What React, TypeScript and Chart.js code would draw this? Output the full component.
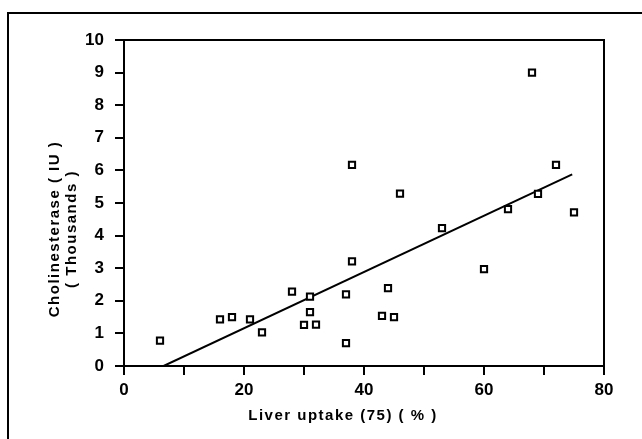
import React, { useEffect, useRef } from "react";
import { Chart, registerables } from "chart.js";

Chart.register(...registerables);

// Scatter data: liver uptake (%) vs cholinesterase (thousands IU)
const uptakeX = [6, 16, 18, 21, 23, 28, 30, 31, 31, 32, 37, 37, 38, 38, 43, 44, 45, 46, 53, 60, 64, 68, 69, 72, 75];
const cholinY = [0.78, 1.43, 1.5, 1.43, 1.03, 2.28, 1.26, 2.13, 1.65, 1.27, 2.2, 0.7, 3.21, 6.17, 1.54, 2.39, 1.5, 5.29, 4.23, 2.97, 4.81, 9.0, 5.28, 6.17, 4.71];

// Regression line end points
const fitX = [6.6, 74.7];
const fitY = [0, 5.88];

const xTickLabels = ["0", "20", "40", "60", "80"];
const xTitle = "Liver uptake (75) ( % )";
const yTitle1 = "Cholinesterase ( IU )";
const yTitle2 = "( Thousands )";

const FONT = "'Liberation Sans', Arial, sans-serif";

const decorPlugin = {
  id: "decor",
  afterDraw(chart: any) {
    const { ctx, chartArea } = chart;
    ctx.save();
    ctx.strokeStyle = "#000";
    ctx.lineWidth = 2;
    // outer border (top and left)
    ctx.beginPath();
    ctx.moveTo(8, 439);
    ctx.lineTo(8, 13);
    ctx.lineTo(642, 13);
    ctx.stroke();
    // plot frame top and right
    ctx.beginPath();
    ctx.moveTo(chartArea.left - 1, chartArea.top);
    ctx.lineTo(chartArea.right, chartArea.top);
    ctx.lineTo(chartArea.right, chartArea.bottom);
    ctx.stroke();
    // axis titles
    ctx.fillStyle = "#000";
    ctx.font = `bold 15px ${FONT}`;
    (ctx as any).letterSpacing = "1.5px";
    ctx.textAlign = "center";
    ctx.textBaseline = "middle";
    ctx.fillText(xTitle, 343, 416);
    ctx.translate(55, 229);
    ctx.rotate(-Math.PI / 2);
    ctx.fillText(yTitle1, 0, 0);
    ctx.fillText(yTitle2, 0, 17);
    ctx.restore();
  },
};

export default function App() {
  const ref = useRef<HTMLCanvasElement | null>(null);
  useEffect(() => {
    if (!ref.current) return;
    const points = uptakeX.map((x, i) => ({ x, y: cholinY[i] }));
    const fit = fitX.map((x, i) => ({ x, y: fitY[i] }));
    const chart = new Chart(ref.current, {
      type: "scatter",
      data: {
        datasets: [
          {
            data: points,
            pointStyle: "rect",
            pointRadius: 4.4,
            pointBorderWidth: 2,
            pointBorderColor: "#000",
            pointBackgroundColor: "#fff",
            showLine: false,
          },
          {
            data: fit,
            showLine: true,
            borderColor: "#000",
            borderWidth: 2,
            pointRadius: 0,
            fill: false,
          },
        ],
      },
      plugins: [decorPlugin],
      options: {
        animation: false,
        responsive: false,
        events: [],
        layout: { padding: { left: 0, top: 40, right: 38, bottom: 0 } },
        plugins: { legend: { display: false }, tooltip: { enabled: false } },
        scales: {
          x: {
            type: "linear",
            min: 0,
            max: 80,
            afterFit: (s: any) => {
              s.height = 73;
            },
            ticks: {
              stepSize: 10,
              autoSkip: false,
              maxRotation: 0,
              padding: 5,
              color: "#000",
              font: { family: FONT, size: 17, weight: "bold" },
              callback: (v: any) => {
                const s = String(v);
                return xTickLabels.includes(s) ? s : "";
              },
            },
            grid: {
              drawOnChartArea: false,
              drawTicks: true,
              tickLength: 9,
              color: "#000",
              lineWidth: 2,
            },
            border: { display: true, color: "#000", width: 2 },
          },
          y: {
            type: "linear",
            min: 0,
            max: 10,
            afterFit: (s: any) => {
              s.width = 124;
            },
            ticks: {
              stepSize: 1,
              padding: 11,
              color: "#000",
              font: { family: FONT, size: 17, weight: "bold" },
            },
            grid: {
              drawOnChartArea: false,
              drawTicks: true,
              tickLength: 9,
              color: "#000",
              lineWidth: 2,
            },
            border: { display: true, color: "#000", width: 2 },
          },
        },
      },
    } as any);
    return () => chart.destroy();
  }, []);
  return (
    <div style={{ position: "fixed", left: 0, top: 0, width: 642, height: 439, background: "#fff" }}>
      <canvas ref={ref} width={642} height={439} />
    </div>
  );
}
